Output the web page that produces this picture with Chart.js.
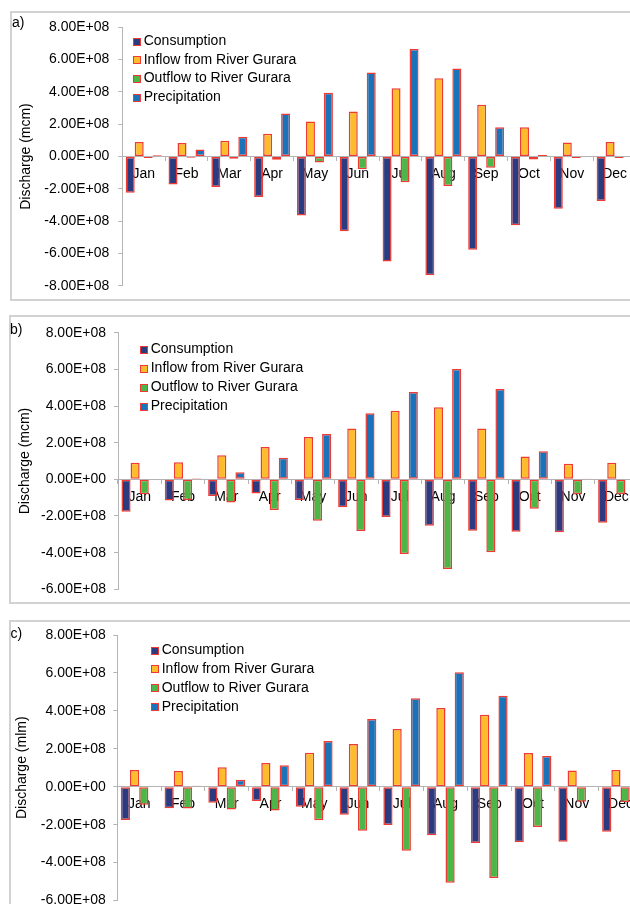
<!DOCTYPE html>
<html>
<head>
<meta charset="utf-8">
<script src="https://cdn.jsdelivr.net/npm/chart.js@4.4.1/dist/chart.umd.min.js"></script>
<style>
  html, body { margin: 0; padding: 0; background: #fff; }
  body { width: 630px; height: 904px; overflow: hidden; position: relative;
         font-family: "Liberation Sans", Arial, sans-serif; }
  .frame { position: absolute; border: 2px solid #d2d2d2; box-sizing: border-box; }
  .tag { position: absolute; font-size: 14px; line-height: 14px; color: #000; }
  canvas { position: absolute; left: 0; }
</style>
</head>
<body>
<div class="frame" style="left:10px;top:11px;width:700px;height:290px"></div>
<div class="frame" style="left:9px;top:315px;width:700px;height:289px"></div>
<div class="frame" style="left:9px;top:620px;width:700px;height:400px"></div>

<canvas id="chartA" width="700" height="305" style="top:0px"></canvas>
<canvas id="chartB" width="700" height="305" style="top:305px"></canvas>
<canvas id="chartC" width="700" height="310" style="top:610px"></canvas>

<div class="tag" style="left:12px;top:14.6px">a)</div>
<div class="tag" style="left:10px;top:321.5px">b)</div>
<div class="tag" style="left:10.5px;top:625.5px">c)</div>

<script>
// Months on the category axis
const months = ['Jan', 'Feb', 'Mar', 'Apr', 'May', 'Jun', 'Jul', 'Aug', 'Sep', 'Oct', 'Nov', 'Dec'];

// Water-balance components
const seriesNames = ['Consumption', 'Inflow from River Gurara', 'Outflow to River Gurara', 'Precipitation'];

// Panel a) monthly discharge
const consumptionA = [-2.24e8, -1.74e8, -1.89e8, -2.51e8, -3.65e8, -4.63e8, -6.50e8, -7.35e8, -5.77e8, -4.26e8, -3.24e8, -2.76e8];
const inflowA      = [0.90e8, 0.83e8, 0.98e8, 1.41e8, 2.16e8, 2.79e8, 4.22e8, 4.84e8, 3.20e8, 1.81e8, 0.87e8, 0.90e8];
const outflowA     = [-0.10e8, -0.08e8, -0.14e8, -0.20e8, -0.37e8, -0.79e8, -1.60e8, -1.83e8, -0.69e8, -0.18e8, -0.10e8, -0.10e8];
const precipA      = [0.08e8, 0.44e8, 1.23e8, 2.66e8, 3.95e8, 5.20e8, 6.65e8, 5.45e8, 1.81e8, 0.10e8, 0, 0];

// Panel b) monthly discharge
const consumptionB = [-1.77e8, -1.15e8, -0.91e8, -0.78e8, -1.13e8, -1.53e8, -2.06e8, -2.53e8, -2.80e8, -2.86e8, -2.89e8, -2.37e8];
const inflowB      = [0.91e8, 0.93e8, 1.31e8, 1.76e8, 2.31e8, 2.78e8, 3.74e8, 3.93e8, 2.78e8, 1.25e8, 0.85e8, 0.91e8];
const outflowB     = [-0.82e8, -1.13e8, -1.27e8, -1.68e8, -2.26e8, -2.82e8, -4.07e8, -4.89e8, -3.98e8, -1.60e8, -0.82e8, -0.80e8];
const precipB      = [0, 0.06e8, 0.38e8, 1.18e8, 2.47e8, 3.60e8, 4.76e8, 6.02e8, 4.93e8, 1.53e8, 0.02e8, 0];

// Panel c) monthly discharge
const consumptionC = [-1.76e8, -1.14e8, -0.85e8, -0.75e8, -1.05e8, -1.48e8, -2.02e8, -2.56e8, -2.97e8, -2.93e8, -2.90e8, -2.37e8];
const inflowC      = [0.88e8, 0.83e8, 1.02e8, 1.25e8, 1.79e8, 2.25e8, 3.04e8, 4.15e8, 3.80e8, 1.78e8, 0.85e8, 0.88e8];
const outflowC     = [-0.95e8, -1.15e8, -1.20e8, -1.25e8, -1.77e8, -2.32e8, -3.38e8, -5.06e8, -4.82e8, -2.13e8, -0.79e8, -0.80e8];
const precipC      = [0, 0.05e8, 0.37e8, 1.13e8, 2.41e8, 3.57e8, 4.66e8, 6.03e8, 4.80e8, 1.62e8, 0.03e8, 0];

// Value-axis ticks
const yTicksA = [8e8, 6e8, 4e8, 2e8, 0, -2e8, -4e8, -6e8, -8e8];
const yTicksB = [8e8, 6e8, 4e8, 2e8, 0, -2e8, -4e8, -6e8];
const yTicksC = [8e8, 6e8, 4e8, 2e8, 0, -2e8, -4e8, -6e8];

const yTitleA = 'Discharge (mcm)';
const yTitleB = 'Discharge (mcm)';
const yTitleC = 'Discharge (mlm)';

const FONT = '"Liberation Sans", Arial, sans-serif';
const fills = ['#2b3b80', '#fdbc2b', '#4cb748', '#1a73b9'];
const edge = '#ee3a33';
const axisGrey = '#b4b4b4';

// 8.00E+08 style labels
function sci(v) {
  if (v === 0) return '0.00E+00';
  const e = Math.floor(Math.log10(Math.abs(v)) + 1e-9);
  const m = v / Math.pow(10, e);
  return m.toFixed(2) + 'E' + (e < 0 ? '-' : '+') + String(Math.abs(e)).padStart(2, '0');
}

// Vertical key with small framed swatches, placed inside the plot area
const seriesKey = {
  id: 'seriesKey',
  afterDraw(chart, args, opts) {
    const { ctx, chartArea } = chart;
    ctx.save();
    ctx.font = '14px ' + FONT;
    ctx.textBaseline = 'middle';
    ctx.textAlign = 'left';
    chart.data.datasets.forEach((ds, i) => {
      const cy = chartArea.top + opts.dy + i * opts.gap;
      const x = Math.round(chartArea.left + opts.dx);
      const y = Math.round(cy - 3.5);
      ctx.fillStyle = ds.backgroundColor;
      ctx.fillRect(x, y, 8, 8);
      ctx.strokeStyle = ds.borderColor;
      ctx.lineWidth = 1;
      ctx.strokeRect(x + 0.5, y + 0.5, 7, 7);
      ctx.fillStyle = '#000';
      ctx.fillText(ds.label, x + 10.7, cy);
    });
    ctx.restore();
  }
};

function build(id, series, ticks, title, lay) {
  const datasets = series.map((vals, i) => ({
    label: seriesNames[i],
    data: vals,
    backgroundColor: fills[i],
    borderColor: edge,
    borderWidth: 1.5,
    borderSkipped: false,
    categoryPercentage: 0.84,
    barPercentage: 1.0
  }));
  return new Chart(document.getElementById(id), {
    type: 'bar',
    data: { labels: months, datasets },
    plugins: [seriesKey],
    options: {
      responsive: false,
      animation: false,
      devicePixelRatio: 1,
      layout: { padding: { left: lay.left, right: lay.right, top: lay.top, bottom: lay.bottom } },
      plugins: {
        legend: { display: false },
        tooltip: { enabled: false },
        seriesKey: { dx: lay.keyX, dy: lay.keyY, gap: lay.keyGap }
      },
      scales: {
        x: {
          type: 'category',
          position: { y: 0 },
          offset: true,
          grid: { drawOnChartArea: false, drawTicks: true, tickLength: 4, color: axisGrey, offset: true },
          border: { display: true, color: axisGrey, width: 1 },
          ticks: { padding: 5, autoSkip: false, maxRotation: 0, minRotation: 0, color: '#000', font: { family: FONT, size: 14 } }
        },
        y: {
          type: 'linear',
          position: 'left',
          min: Math.min(...ticks),
          max: Math.max(...ticks),
          afterBuildTicks: (s) => { s.ticks = ticks.map(v => ({ value: v })); },
          afterFit: (s) => { s.width = lay.axisW; },
          grid: { drawOnChartArea: false, drawTicks: true, tickLength: 4, color: axisGrey },
          border: { display: true, color: axisGrey, width: 1 },
          ticks: { padding: lay.tickPad, color: '#000', font: { family: FONT, size: 14 }, callback: (v) => sci(v) },
          title: { display: true, text: title, color: '#000', padding: 0, font: { family: FONT, size: 14 } }
        }
      }
    }
  });
}

build('chartA', [consumptionA, inflowA, outflowA, precipA], yTicksA, yTitleA,
  { left: 17.3, axisW: 105, right: 64, top: 27.3, bottom: 19.3, tickPad: 9, keyX: 11, keyY: 13.7, keyGap: 18.8 });
build('chartB', [consumptionB, inflowB, outflowB, precipB], yTicksB, yTitleB,
  { left: 16.6, axisW: 101.4, right: 62, top: 27.7, bottom: 20.7, tickPad: 8, keyX: 22, keyY: 16.6, keyGap: 19.1 });
build('chartC', [consumptionC, inflowC, outflowC, precipC], yTicksC, yTitleC,
  { left: 14.1, axisW: 103.2, right: 57.6, top: 25, bottom: 19.5, tickPad: 7.5, keyX: 33.7, keyY: 15, keyGap: 18.9 });
</script>
</body>
</html>
